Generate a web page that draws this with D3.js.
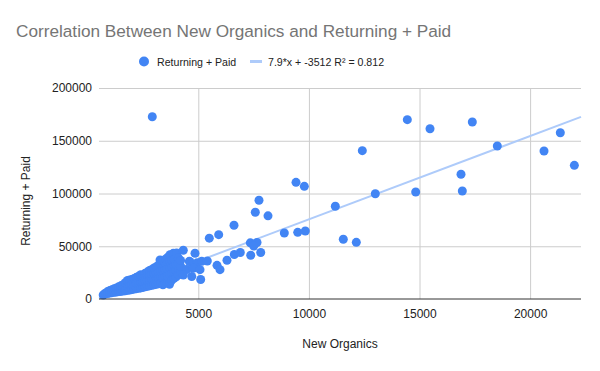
<!DOCTYPE html>
<html>
<head>
<meta charset="utf-8">
<script src="https://cdn.jsdelivr.net/npm/d3@7"></script>
<style>
  body { margin: 0; background: #fff; }
  svg { display: block; font-family: "Liberation Sans", Arial, sans-serif; }
</style>
</head>
<body>
<div id="chart"></div>
<script>
// blob of small values: [New Organics, Returning + Paid]
const clusterPoints = [
  [700, 3800], [760, 4700], [800, 5500], [900, 5200], [900, 7000],
  [1000, 5600], [1000, 8000], [1100, 6000], [1100, 8800], [1200, 6300], [1200, 9800],
  [1300, 6600], [1300, 10500], [1400, 7000], [1400, 9500], [1400, 11500],
  [1500, 7200], [1500, 10000], [1500, 12500], [1600, 7500], [1600, 10500], [1600, 13500],
  [1700, 7800], [1700, 11500], [1700, 15500], [1800, 8200], [1800, 12500], [1800, 17500],
  [1900, 8500], [1900, 13500], [1900, 18000], [2000, 9000], [2000, 14000], [2000, 18500],
  [2100, 9400], [2100, 14500], [2100, 19500], [2200, 9800], [2200, 15000], [2200, 20500],
  [2300, 10200], [2300, 15500], [2300, 21500], [2400, 10500], [2400, 16000], [2400, 21000], [2400, 23000],
  [2500, 11000], [2500, 16500], [2500, 22000], [2600, 11500], [2600, 17000], [2600, 22000], [2600, 24500],
  [2700, 12000], [2700, 17500], [2700, 22500], [2700, 25500],
  [2800, 12500], [2800, 18000], [2800, 23000], [2800, 27000],
  [2900, 13000], [2900, 18500], [2900, 23500], [2900, 28000],
  [3000, 13500], [3000, 19000], [3000, 24000], [3000, 29500],
  [3100, 14000], [3100, 19500], [3100, 25000], [3100, 30500],
  [3200, 14500], [3200, 20000], [3200, 25500], [3200, 32000],
  [3300, 15000], [3300, 21000], [3300, 26500], [3300, 33500], [3270, 37000],
  [3400, 13500], [3400, 20500], [3400, 27000], [3400, 33500], [3400, 36000],
  [3500, 15000], [3500, 21500], [3500, 28000], [3500, 34500], [3530, 38000],
  [3600, 16000], [3600, 22000], [3600, 29000], [3600, 35000], [3620, 39500],
  [3700, 14000], [3700, 23000], [3700, 29500], [3700, 36000], [3720, 42000],
  [3800, 18000], [3800, 24000], [3800, 30500], [3800, 37000], [3870, 43300],
  [3900, 19500], [3900, 25500], [3900, 31500], [3900, 37500],
  [4000, 21000], [4000, 27000], [4000, 33000], [4020, 43600],
  [4100, 23000], [4100, 28500], [4100, 34000], [4100, 39000],
  [4200, 25000], [4200, 31000], [4200, 36500]
];

const midPoints = [
  [2920, 172800],
  [4322, 46200], [4851, 43400], [4593, 35700], [4625, 35400], [4955, 34400], [5154, 35700],
  [5407, 36000], [4476, 28000], [4774, 29100], [5077, 27800], [4702, 21300], [5108, 18500],
  [4322, 22700], [5497, 57700], [5922, 61000], [5846, 31900], [5981, 27800], [6297, 36700],
  [6628, 42200], [6899, 44100], [6614, 69900], [7369, 41500], [7821, 44100], [7351, 53200],
  [7654, 53600], [7505, 50200], [7577, 82200], [7744, 93600], [8151, 78800], [8888, 62600],
  [9494, 63200], [9837, 64500], [9417, 110600], [9793, 106800], [11194, 87900],
  [11555, 56600], [12143, 53700], [12414, 140600], [13002, 99800]
];

const highPoints = [
  [14449, 170000], [15475, 161400], [17387, 167800], [18517, 145000], [21365, 157600],
  [20628, 140300], [22000, 126700], [16876, 118200], [14828, 101400], [16935, 102400]
];

const xTicks = [5000, 10000, 15000, 20000];
const yTicks = [0, 50000, 100000, 150000, 200000];
const trendSlope = 7.9;
const trendIntercept = -3512;
const legendLabels = ['Returning + Paid', '7.9*x + -3512 R\u00b2 = 0.812'];

const width = 600, height = 371;
const margin = { top: 88, right: 19, bottom: 72, left: 99 };
const blue = '#4285f4';
const trendColor = '#aecbfa';

const svg = d3.select('#chart').append('svg')
  .attr('width', width)
  .attr('height', height);

const x = d3.scaleLinear().domain([511, 22300]).range([margin.left, width - margin.right]);
const y = d3.scaleLinear().domain([0, 200000]).range([height - margin.bottom, margin.top]);

// title
svg.append('text')
  .attr('x', 16).attr('y', 37)
  .attr('fill', '#757575')
  .style('font-size', '17.2px')
  .text('Correlation Between New Organics and Returning + Paid');

// gridlines
svg.append('g')
  .attr('transform', `translate(0,${y(0)})`)
  .call(d3.axisBottom(x).tickValues(xTicks).tickSize(-(y(0) - y(200000))).tickFormat(''))
  .call(g => g.select('.domain').remove())
  .call(g => g.selectAll('line').attr('stroke', '#cccccc'));

svg.append('g')
  .attr('transform', `translate(${margin.left},0)`)
  .call(d3.axisLeft(y).tickValues(yTicks.slice(1)).tickSize(-(x.range()[1] - x.range()[0])).tickFormat(''))
  .call(g => g.select('.domain').remove())
  .call(g => g.selectAll('line').attr('stroke', '#cccccc'));

// tick labels
const xAxis = svg.append('g')
  .attr('transform', `translate(0,${y(0)})`)
  .call(d3.axisBottom(x).tickValues(xTicks).tickSize(0).tickPadding(10).tickFormat(d3.format('d')));
xAxis.select('.domain').remove();
xAxis.selectAll('text').attr('fill', '#222').style('font-size', '12px').style('font-family', '"Liberation Sans", Arial, sans-serif');

const yAxis = svg.append('g')
  .attr('transform', `translate(${margin.left},0)`)
  .call(d3.axisLeft(y).tickValues(yTicks).tickSize(0).tickPadding(7).tickFormat(d3.format('d')));
yAxis.select('.domain').remove();
yAxis.selectAll('text').attr('fill', '#222').style('font-size', '12px').style('font-family', '"Liberation Sans", Arial, sans-serif');

// axis titles
svg.append('text')
  .attr('x', 340).attr('y', 348)
  .attr('text-anchor', 'middle')
  .attr('fill', '#222')
  .style('font-size', '12px')
  .text('New Organics');

svg.append('text')
  .attr('transform', 'translate(30,201) rotate(-90)')
  .attr('text-anchor', 'middle')
  .attr('fill', '#222')
  .style('font-size', '12px')
  .text('Returning + Paid');

// trendline
const [x0, x1] = x.domain();
svg.append('line')
  .attr('x1', x(x0)).attr('y1', y(trendSlope * x0 + trendIntercept))
  .attr('x2', x(x1)).attr('y2', y(trendSlope * x1 + trendIntercept))
  .attr('stroke', trendColor)
  .attr('stroke-width', 2);

// points
const allPoints = clusterPoints.concat(midPoints, highPoints);
svg.append('g').selectAll('circle')
  .data(allPoints)
  .enter().append('circle')
  .attr('cx', d => x(d[0]))
  .attr('cy', d => y(d[1]))
  .attr('r', 4.5)
  .attr('fill', blue);

// baseline
svg.append('line')
  .attr('x1', x.range()[0]).attr('x2', x.range()[1])
  .attr('y1', y(0)).attr('y2', y(0))
  .attr('stroke', '#333').attr('stroke-width', 1);

// legend
const legend = svg.append('g').style('font-size', '10.6px');
legend.append('circle').attr('cx', 144).attr('cy', 61.5).attr('r', 5).attr('fill', blue);
legend.append('text').attr('x', 157).attr('y', 65.5).attr('fill', '#222').text(legendLabels[0]);
legend.append('line')
  .attr('x1', 250).attr('x2', 262).attr('y1', 61.5).attr('y2', 61.5)
  .attr('stroke', trendColor).attr('stroke-width', 3);
legend.append('text').attr('x', 268).attr('y', 65.5).attr('fill', '#222').text(legendLabels[1]);
</script>
</body>
</html>
